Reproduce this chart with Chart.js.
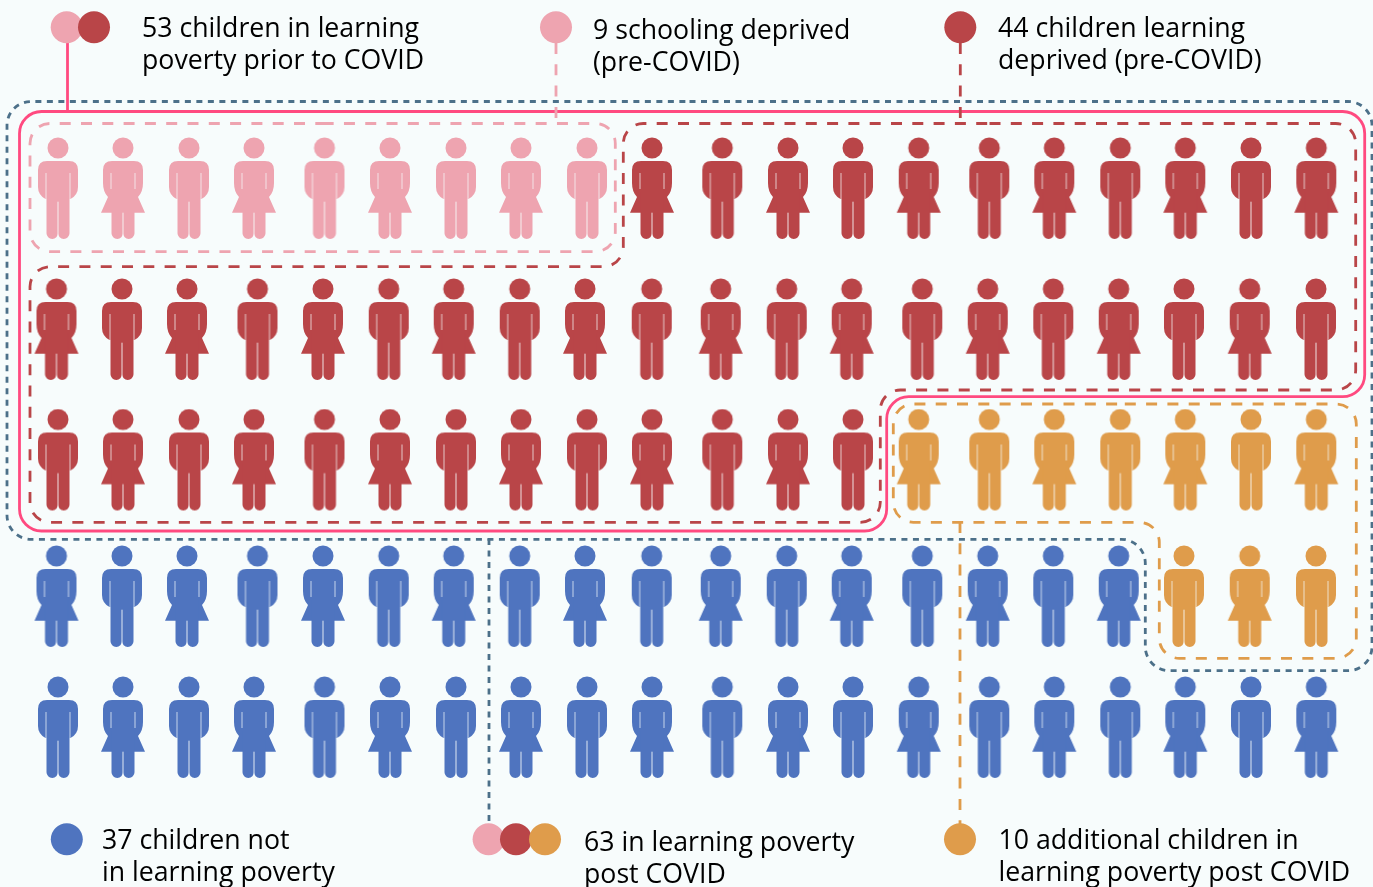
<!DOCTYPE html>
<html>
<head>
<meta charset="utf-8">
<script src="https://cdn.jsdelivr.net/npm/chart.js@4"></script>
<style>
html, body { margin: 0; padding: 0; background: #f7fcfc; overflow: hidden; }
canvas { display: block; }
</style>
</head>
<body>
<canvas id="pictogram" width="1373" height="887"></canvas>
<script>
// children per grid row (5 rows of 20)
var rowNames = ['row 1', 'row 2', 'row 3', 'row 4', 'row 5'];
var schoolingDeprived = [9, 0, 0, 0, 0];
var learningDeprived = [11, 20, 13, 0, 0];
var notInPoverty = [0, 0, 0, 17, 20];
var additionalPoverty = [0, 0, 7, 3, 0];

var captions = [
    ['53 children in learning', 'poverty prior to COVID'],
    ['9 schooling deprived', '(pre-COVID)'],
    ['44 children learning', 'deprived (pre-COVID)'],
    ['37 children not', 'in learning poverty'],
    ['63 in learning poverty', 'post COVID'],
    ['10 additional children in', 'learning poverty post COVID']
];

// layout, in page units
var evenRowX = [58, 123, 189, 254, 324.5, 390, 456, 521, 587, 652, 722.3, 788, 853, 918.7, 989.3, 1054.3, 1120.3, 1185.3, 1251, 1316.3];
var oddRowX = [56.5, 122, 187, 257.5, 323, 388.7, 453.7, 519.7, 585, 651.7, 720.7, 786.7, 851.7, 922.3, 987.7, 1053.3, 1118.7, 1184, 1249.7, 1316];
var rowY = [189, 330, 460.5, 597, 728];

var PINK = '#eea4b0', RED = '#b94548', BLUE = '#4f74bf', ORANGE = '#df9c4b';
var HOT = '#ff4a80', SLATE = '#4c7089';

// sprite of one child, centred on the point
function makeChild(color, girl) {
    var c = document.createElement('canvas');
    c.width = 52;
    c.height = 104;
    var g = c.getContext('2d');
    g.translate(26, 0);
    g.fillStyle = color;
    g.beginPath();
    g.arc(0, 11, 10.5, 0, Math.PI * 2);
    g.fill();

    // torso with arms
    g.beginPath();
    g.moveTo(-11, 24);
    g.lineTo(11, 24);
    g.quadraticCurveTo(20, 24, 20, 33);
    if (girl) {
        g.lineTo(20, 46);
        g.quadraticCurveTo(20, 55, 15, 60);
        g.lineTo(22, 75.7);
        g.lineTo(-22, 75.7);
        g.lineTo(-15, 60);
        g.quadraticCurveTo(-20, 55, -20, 46);
    } else {
        g.lineTo(20, 50);
        g.quadraticCurveTo(20, 58, 12.5, 62);
        g.lineTo(-12.5, 62);
        g.quadraticCurveTo(-20, 58, -20, 50);
    }
    g.lineTo(-20, 33);
    g.quadraticCurveTo(-20, 24, -11, 24);
    g.fill();

    // legs
    g.beginPath();
    g.roundRect(-11.5, 55, 11.5, 47, [0, 0, 5.7, 5.7]);
    g.roundRect(0, 55, 11.5, 47, [0, 0, 5.7, 5.7]);
    g.fill();

    // cut the gaps between arms and body, and between the legs
    g.globalCompositeOperation = 'destination-out';
    g.globalAlpha = 0.7;
    g.fillRect(-12.5, 36, 1, girl ? 16 : 26);
    g.fillRect(11.5, 36, 1, girl ? 16 : 26);
    g.fillRect(-0.6, girl ? 75.7 : 64.7, 1.2, 40);
    return c;
}

function sprites(color) {
    return [makeChild(color, false), makeChild(color, true)];
}

var groups = [
    { label: 'Schooling deprived', counts: schoolingDeprived, color: PINK },
    { label: 'Learning deprived', counts: learningDeprived, color: RED },
    { label: 'Not in learning poverty', counts: notInPoverty, color: BLUE },
    { label: 'Additional learning poverty', counts: additionalPoverty, color: ORANGE }
];

var datasets = groups.map(function (grp) {
    return { label: grp.label, data: [], pics: sprites(grp.color), pointRadius: 3, pointBorderWidth: 0 };
});
rowNames.forEach(function (name, row) {
    var xs = row % 2 ? oddRowX : evenRowX;
    var col = 0;
    groups.forEach(function (grp, i) {
        for (var n = 0; n < grp.counts[row]; n++) {
            datasets[i].data.push({ x: xs[col], y: rowY[row], girl: (row + col) % 2 });
            col++;
        }
    });
});
datasets.forEach(function (ds) {
    ds.pointStyle = function (ctx) {
        return ds.pics[ctx.raw ? ctx.raw.girl : 0];
    };
});

// outlines round the groups
var outlines = [
    { pts: [[7, 101.5], [1372, 101.5], [1372, 670.7], [1145.3, 670.7], [1145.3, 539.3], [7, 539.3]], r: 24, color: SLATE, dash: [6, 5.5] },
    { pts: [[19.5, 111.5], [1364.7, 111.5], [1364.7, 396.7], [886.7, 396.7], [886.7, 531], [19.5, 531]], r: 22, color: HOT, dash: [] },
    { pts: [[30, 123.5], [615.3, 123.5], [615.3, 251.7], [30, 251.7]], r: 20, color: PINK, dash: [11, 10.3] },
    { pts: [[623.3, 123.5], [1355.7, 123.5], [1355.7, 390], [880.3, 390], [880.3, 522.3], [30, 522.3], [30, 266.7], [623.3, 266.7]], r: 20, color: RED, dash: [11, 10.3] },
    { pts: [[893.3, 404], [1356.3, 404], [1356.3, 658.3], [1159.3, 658.3], [1159.3, 522.3], [893.3, 522.3]], r: 20, color: ORANGE, dash: [11, 10.3] }
];
var leaders = [
    { from: [67.5, 43], to: [67.5, 111], color: HOT, dash: [] },
    { from: [556, 43], to: [556, 118], color: PINK, dash: [11, 10.3] },
    { from: [960.3, 43], to: [960.3, 118], color: RED, dash: [11, 10.3] },
    { from: [489, 539], to: [489, 826], color: SLATE, dash: [6, 5.5] },
    { from: [960, 522], to: [960, 826], color: ORANGE, dash: [11, 10.3] }
];
var keyDots = [
    [66.7, 27.3, PINK], [94, 27.3, RED], [556, 27.3, PINK], [960.3, 27.3, RED],
    [66.8, 839.3, BLUE], [488.6, 839.3, PINK], [516, 839.3, RED], [545, 839.3, ORANGE], [960, 839.3, ORANGE]
];
var captionPos = [[142, 37], [593, 38.5], [998, 37], [102, 849], [584, 851], [998.5, 849]];

var artwork = {
    id: 'artwork',
    beforeDatasetsDraw: function (chart) {
        var c = chart.ctx, sx = chart.scales.x, sy = chart.scales.y;
        function px(p) { return [sx.getPixelForValue(p[0]), sy.getPixelForValue(p[1])]; }
        c.save();
        c.lineWidth = 2.8;
        outlines.forEach(function (o) {
            var pts = o.pts.map(px), n = pts.length;
            c.beginPath();
            c.moveTo((pts[0][0] + pts[1][0]) / 2, pts[0][1]);
            for (var i = 1; i <= n; i++) {
                var a = pts[i % n], b = pts[(i + 1) % n];
                c.arcTo(a[0], a[1], b[0], b[1], o.r);
            }
            c.closePath();
            c.strokeStyle = o.color;
            c.setLineDash(o.dash);
            c.stroke();
        });
        leaders.forEach(function (l) {
            var a = px(l.from), b = px(l.to);
            c.beginPath();
            c.moveTo(a[0], a[1]);
            c.lineTo(b[0], b[1]);
            c.strokeStyle = l.color;
            c.setLineDash(l.dash);
            c.stroke();
        });
        c.setLineDash([]);
        keyDots.forEach(function (d) {
            var p = px(d);
            c.beginPath();
            c.arc(p[0], p[1], 16, 0, Math.PI * 2);
            c.fillStyle = d[2];
            c.fill();
        });
        c.fillStyle = '#000';
        c.font = '26.7px "Open Sans"';
        c.textBaseline = 'alphabetic';
        captions.forEach(function (lines, i) {
            var p = px(captionPos[i]);
            c.fillText(lines[0], p[0], p[1]);
            c.fillText(lines[1], p[0], p[1] + 32);
        });
        c.restore();
    }
};

var chart = new Chart(document.getElementById('pictogram').getContext('2d'), {
    type: 'scatter',
    data: { datasets: datasets },
    plugins: [artwork],
    options: {
        responsive: false,
        animation: false,
        layout: { padding: 0, autoPadding: false },
        plugins: { legend: { display: false }, tooltip: { enabled: false } },
        scales: {
            x: { type: 'linear', display: false, min: 0, max: 1373 },
            y: { type: 'linear', display: false, min: 0, max: 887, reverse: true }
        }
    }
});
</script>
</body>
</html>
